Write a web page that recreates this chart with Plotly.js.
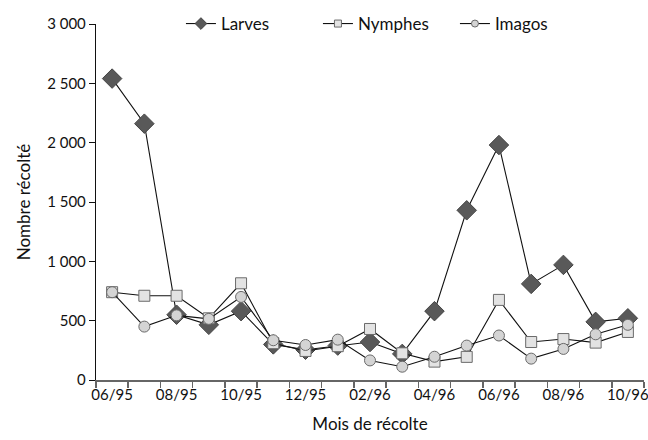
<!DOCTYPE html>
<html>
<head>
<meta charset="utf-8">
<script src="https://cdn.plot.ly/plotly-3.0.1.min.js"></script>
<style>html,body{margin:0;padding:0;background:#fff}#chart{width:648px;height:440px}</style>
</head>
<body>
<div id="chart"></div>
<script>
var months = ["06/95","07/95","08/95","09/95","10/95","11/95","12/95","01/96","02/96","03/96","04/96","05/96","06/96","07/96","08/96","09/96","10/96"];
var tickLabels = ["06/95","","08/95","","10/95","","12/95","","02/96","","04/96","","06/96","","08/96","","10/96"];
var larves  = [2540, 2160, 550, 465, 580, 300, 255, 290, 320, 220, 580, 1430, 1980, 810, 970, 490, 520];
var nymphes = [740, 710, 710, 520, 815, 310, 245, 285, 430, 225, 155, 195, 675, 320, 345, 315, 405];
var imagos  = [740, 450, 545, 515, 700, 335, 295, 340, 165, 112, 196, 290, 375, 180, 262, 385, 465];
var seriesNames = ["Larves", "Nymphes", "Imagos"];
var yTickVals = [0, 500, 1000, 1500, 2000, 2500, 3000];
var yTickText = ["0", "500", "1 000", "1 500", "2 000", "2 500", "3 000"];

var lineStyle = {color: "#111", width: 1.1};
var markers = [
  {symbol: "diamond", size: 15, color: "#595959", line: {color: "#444", width: 1}},
  {symbol: "square", size: 11, color: "#e3e3e3", line: {color: "#6a6a6a", width: 1}},
  {symbol: "circle", size: 11, color: "#d4d4d4", line: {color: "#6a6a6a", width: 1}}
];
var legendMarkers = [
  {symbol: "diamond", size: 9, color: "#595959", line: {color: "#444", width: 1}},
  {symbol: "square", size: 7, color: "#e3e3e3", line: {color: "#6a6a6a", width: 1}},
  {symbol: "circle", size: 7, color: "#d4d4d4", line: {color: "#6a6a6a", width: 1}}
];
var values = [larves, nymphes, imagos];
var traces = [];
values.forEach(function (v, i) {
  traces.push({name: seriesNames[i], x: months, y: v, type: "scatter", mode: "lines+markers",
    line: lineStyle, marker: markers[i], showlegend: false});
});
values.forEach(function (v, i) {
  traces.push({name: seriesNames[i], x: [null], y: [null], type: "scatter", mode: "lines+markers",
    line: lineStyle, marker: legendMarkers[i], showlegend: true});
});

var fam = "Lato, 'Open Sans', sans-serif";
var layout = {
  width: 648, height: 440,
  margin: {l: 96, r: 4, t: 24, b: 60},
  paper_bgcolor: "#fff", plot_bgcolor: "#fff",
  font: {family: fam, size: 15, color: "#111"},
  showlegend: true,
  legend: {orientation: "h", x: 0.155, xanchor: "left", y: 1.0, yanchor: "middle",
           font: {family: fam, size: 17, color: "#111"}, bgcolor: "rgba(0,0,0,0)",
           entrywidth: 92, entrywidthmode: "pixels"},
  xaxis: {
    type: "category", range: [-0.5, 16.5],
    tickmode: "array", tickvals: months, ticktext: tickLabels, tickangle: 0,
    tickson: "boundaries", ticks: "outside", ticklen: 6, tickwidth: 1.5, tickcolor: "#666",
    showline: true, linecolor: "#666", linewidth: 2,
    showgrid: false, zeroline: false,
    tickfont: {family: fam, size: 15, color: "#111"},
    title: {text: "Mois de récolte", font: {family: fam, size: 17, color: "#111"}, standoff: 16}
  },
  yaxis: {
    range: [0, 3000], tickmode: "array", tickvals: yTickVals, ticktext: yTickText,
    ticks: "outside", ticklen: 6, tickwidth: 1, tickcolor: "#111",
    showline: true, linecolor: "#111", linewidth: 1.2,
    showgrid: false, zeroline: false,
    tickfont: {family: fam, size: 15, color: "#111"},
    title: {text: "Nombre récolté", font: {family: fam, size: 17, color: "#111"}, standoff: 12}
  }
};
Plotly.newPlot("chart", traces, layout, {staticPlot: true, displayModeBar: false});
</script>
</body>
</html>
